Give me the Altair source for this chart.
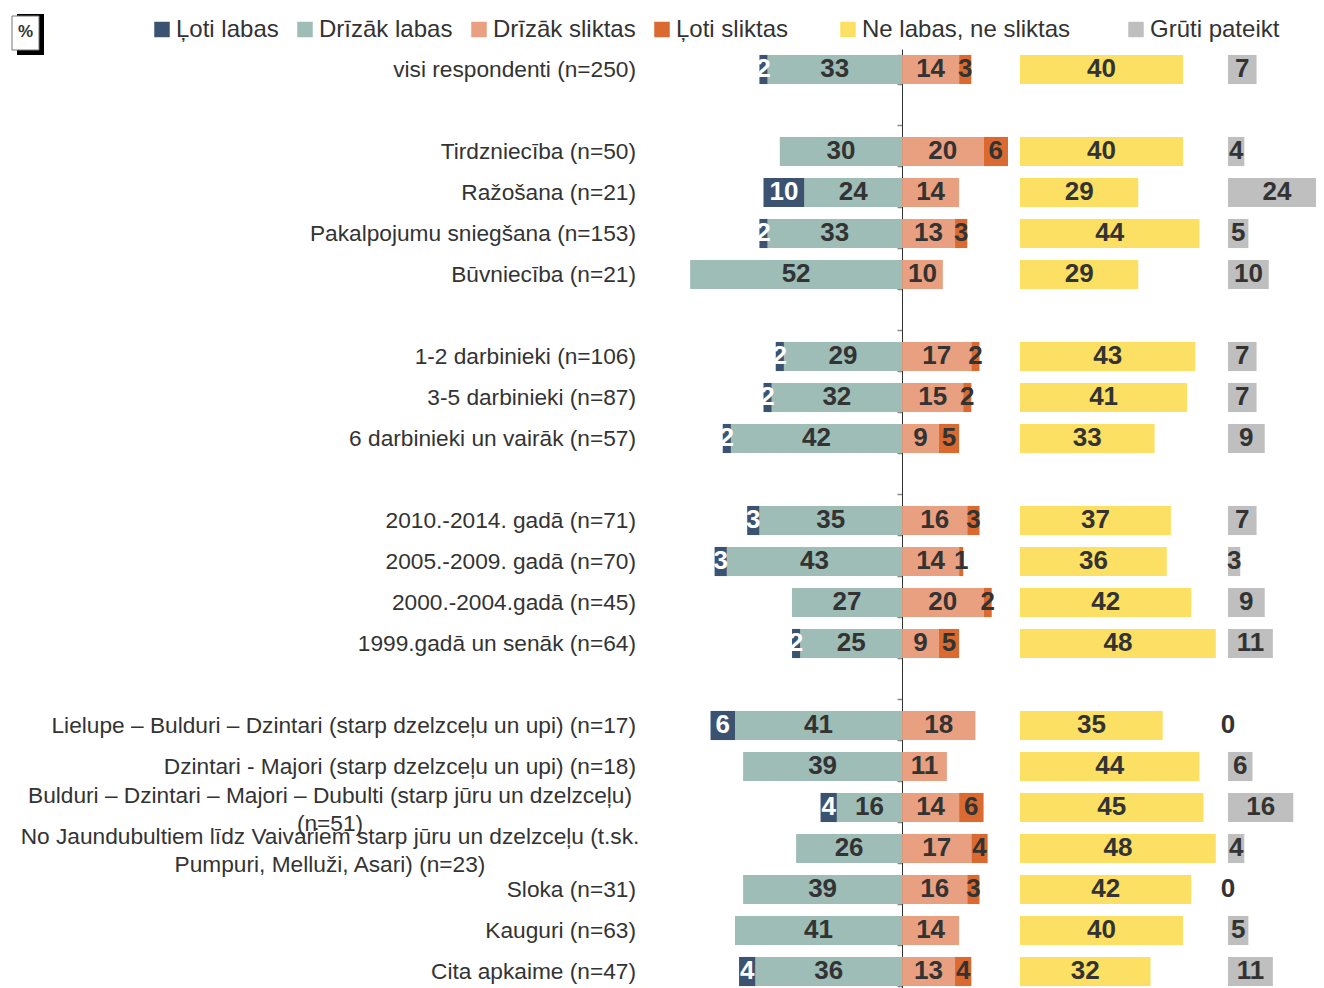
import altair as alt
import pandas as pd

# ---------------- data ----------------
labels = [
    "visi respondenti (n=250)", "",
    "Tirdzniecība (n=50)", "Ražošana (n=21)", "Pakalpojumu sniegšana (n=153)", "Būvniecība (n=21)", "",
    "1-2 darbinieki (n=106)", "3-5 darbinieki (n=87)", "6 darbinieki un vairāk (n=57)", "",
    "2010.-2014. gadā (n=71)", "2005.-2009. gadā (n=70)", "2000.-2004.gadā (n=45)", "1999.gadā un senāk (n=64)", "",
    "Lielupe – Bulduri – Dzintari (starp dzelzceļu un upi) (n=17)",
    "Dzintari - Majori (starp dzelzceļu un upi) (n=18)",
    "Bulduri – Dzintari – Majori – Dubulti (starp jūru un dzelzceļu)\n(n=51)",
    "No Jaundubultiem līdz Vaivariem starp jūru un dzelzceļu (t.sk.\nPumpuri, Melluži, Asari) (n=23)",
    "Sloka (n=31)", "Kauguri (n=63)", "Cita apkaime (n=47)",
]
N = None
loti_labas    = [2, N, N, 10, 2, N, N, 2, 2, 2, N, 3, 3, N, 2, N, 6, N, 4, N, N, N, 4]
drizak_labas  = [33, N, 30, 24, 33, 52, N, 29, 32, 42, N, 35, 43, 27, 25, N, 41, 39, 16, 26, 39, 41, 36]
drizak_slikt  = [14, N, 20, 14, 13, 10, N, 17, 15, 9, N, 16, 14, 20, 9, N, 18, 11, 14, 17, 16, 14, 13]
loti_slikt    = [3, N, 6, N, 3, N, N, 2, 2, 5, N, 3, 1, 2, 5, N, N, N, 6, 4, 3, N, 4]
ne_ne         = [40, N, 40, 29, 44, 29, N, 43, 41, 33, N, 37, 36, 42, 48, N, 35, 44, 45, 48, 42, 40, 32]
gruti         = [7, N, 4, 24, 5, 10, N, 7, 7, 9, N, 7, 3, 9, 11, N, 0, 6, 16, 4, 0, 5, 11]

cats4 = ["Ļoti labas", "Drīzāk labas", "Drīzāk sliktas", "Ļoti sliktas"]
cols4 = ["#3B5371", "#9EBDB7", "#E8A080", "#DA6A30"]
cat_nn, col_nn = "Ne labas, ne sliktas", "#FCE063"
cat_gp, col_gp = "Grūti pateikt", "#BFBFBF"

FONT = "Liberation Sans"
TXT = "#333333"
NS = len(labels)

# --------------- tables ---------------
rows = pd.DataFrame({
    "slot": list(range(NS)), "label": labels,
    "nn": ne_ne, "gp": gruti,
})
rows["wrap"] = rows["label"].str.contains("\n")

seg = []
for i in range(NS):
    vl, dl, ds, vs = loti_labas[i], drizak_labas[i], drizak_slikt[i], loti_slikt[i]
    d = dl or 0
    s = ds or 0
    if dl:
        seg.append(dict(slot=i, cat=cats4[1], x0=-dl, x1=0, v=dl))
    if vl:
        seg.append(dict(slot=i, cat=cats4[0], x0=-(d + vl), x1=-d, v=vl))
    if ds:
        seg.append(dict(slot=i, cat=cats4[2], x0=0, x1=ds, v=ds))
    if vs:
        seg.append(dict(slot=i, cat=cats4[3], x0=s, x1=s + vs, v=vs))
seg = pd.DataFrame(seg)
seg["mid"] = (seg["x0"] + seg["x1"]) / 2

# --------------- layout ---------------
STEP = 41
H = STEP * NS
yscale = alt.Scale(domain=list(range(NS)), paddingInner=0.29, paddingOuter=0.145)
W_LAB, W_DIV, W_NN, W_GP = 674, 338, 208, 88

def legend(x, y):
    return alt.Legend(orient="none", legendX=x, legendY=y, direction="horizontal",
                      title=None, symbolType="square", symbolSize=240, symbolStrokeWidth=0,
                      symbolOpacity=1, labelFont=FONT, labelFontSize=24, labelColor=TXT,
                      labelOffset=2, columnPadding=14, padding=0, labelLimit=400)

# label panel
lab_base = alt.Chart(rows).encode(
    y=alt.Y("slot:O", scale=yscale, axis=None),
    text="label:N",
)
lab_single = lab_base.transform_filter("!datum.wrap").mark_text(
    align="right", baseline="middle", font=FONT, fontSize=22.7, color=TXT
).encode(x=alt.value(628))
lab_multi = lab_base.transform_filter("datum.wrap").mark_text(
    align="center", baseline="middle", font=FONT, fontSize=22.7, color=TXT,
    lineBreak="\n", lineHeight=28, dy=-12
).encode(x=alt.value(322))

box_df = pd.DataFrame({"t": ["%"]})
shadow = alt.Chart(box_df).mark_rect(color="black").encode(
    x=alt.value(9), x2=alt.value(36), y=alt.value(-35), y2=alt.value(6))
box = alt.Chart(box_df).mark_rect(fill="white", stroke="#777777", strokeWidth=1).encode(
    x=alt.value(4), x2=alt.value(31), y=alt.value(-33), y2=alt.value(1))
pct = alt.Chart(box_df).mark_text(font=FONT, fontSize=17, fontWeight="bold", color=TXT,
                                  baseline="middle", align="center").encode(
    x=alt.value(17.5), y=alt.value(-17), text="t:N")

label_panel = alt.layer(lab_single, lab_multi, shadow, box, pct).properties(width=W_LAB, height=H)

# diverging panel
yax = alt.Axis(labels=False, title=None, domainColor="#333333", domainWidth=1,
               tickColor="#888888", tickSize=5, tickWidth=1.5, tickBand="extent",
               offset=-220, grid=False)
xdiv = alt.Scale(domain=[-54, 28.94], nice=False, zero=False)
div_bars = alt.Chart(seg).mark_bar().encode(
    y=alt.Y("slot:O", scale=yscale, axis=yax),
    x=alt.X("x0:Q", scale=xdiv, axis=None), x2="x1:Q",
    color=alt.Color("cat:N", scale=alt.Scale(domain=cats4, range=cols4), legend=legend(-532, -31.5)),
)
div_text = alt.Chart(seg).mark_text(font=FONT, fontSize=26, fontWeight="bold", baseline="middle", dy=-1).encode(
    y=alt.Y("slot:O", scale=yscale, axis=yax),
    x=alt.X("mid:Q", scale=xdiv, axis=None),
    text="v:Q",
    color=alt.condition(alt.datum.cat == cats4[0], alt.value("white"), alt.value(TXT)),
)
div_panel = alt.layer(div_bars, div_text).properties(width=W_DIV, height=H)

# neutral panel
nn_base = alt.Chart(rows).transform_filter("isValid(datum.nn)").transform_calculate(
    cat=f"'{cat_nn}'", mid="datum.nn / 2")
xnn = alt.Scale(domain=[0, 51], nice=False)
nn_bars = nn_base.mark_bar().encode(
    y=alt.Y("slot:O", scale=yscale, axis=None),
    x=alt.X("nn:Q", scale=xnn, axis=None),
    color=alt.Color("cat:N", scale=alt.Scale(domain=[cat_nn], range=[col_nn]), legend=legend(-184, -31.5)),
)
nn_text = nn_base.mark_text(font=FONT, fontSize=26, fontWeight="bold", baseline="middle", dy=-1, color=TXT).encode(
    y=alt.Y("slot:O", scale=yscale, axis=None),
    x=alt.X("mid:Q", scale=xnn, axis=None),
    text="nn:Q",
)
nn_panel = alt.layer(nn_bars, nn_text).properties(width=W_NN, height=H)

# hard to say panel
gp_base = alt.Chart(rows).transform_filter("isValid(datum.gp)").transform_calculate(
    cat=f"'{cat_gp}'", mid="datum.gp / 2")
xgp = alt.Scale(domain=[0, 21.57], nice=False)
gp_bars = gp_base.mark_bar(clip=True).encode(
    y=alt.Y("slot:O", scale=yscale, axis=None),
    x=alt.X("gp:Q", scale=xgp, axis=None),
    color=alt.Color("cat:N", scale=alt.Scale(domain=[cat_gp], range=[col_gp]), legend=legend(-104, -31.5)),
)
gp_text = gp_base.mark_text(font=FONT, fontSize=26, fontWeight="bold", baseline="middle", dy=-1, color=TXT).encode(
    y=alt.Y("slot:O", scale=yscale, axis=None),
    x=alt.X("mid:Q", scale=xgp, axis=None),
    text="gp:Q",
)
gp_panel = alt.layer(gp_bars, gp_text).properties(width=W_GP, height=H)

chart = alt.hconcat(label_panel, div_panel, nn_panel, gp_panel, spacing=0, bounds="flush").resolve_scale(
    color="independent"
).properties(
    padding={"left": 0, "top": 6, "right": 0, "bottom": 0},
    background="white",
).configure_view(stroke=None)

chart.save("out.html", embed_options={"renderer": "svg", "actions": False})
